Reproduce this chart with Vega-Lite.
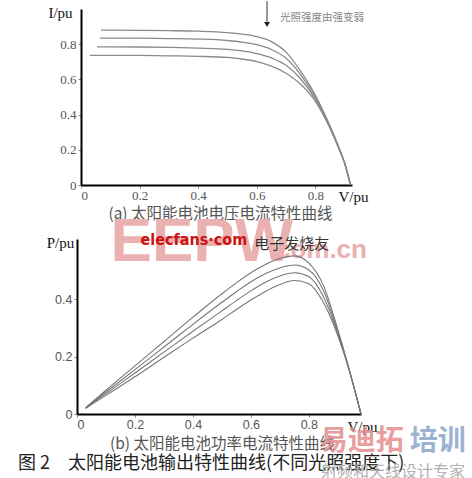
{
  "$schema": "https://vega.github.io/schema/vega-lite/v6.json",
  "background": "white",
  "padding": {"left": 18, "top": 0, "right": 2, "bottom": 2},
  "spacing": 54,
  "bounds": "flush",
  "config": {"view": {"stroke": null}, "axis": {"grid": false}},
  "datasets": {
    "iv": [
      {"curve": 1, "v": 0.068, "i": 0.88}, {"curve": 1, "v": 0.1, "i": 0.88}, {"curve": 1, "v": 0.2, "i": 0.879}, {"curve": 1, "v": 0.3, "i": 0.877}, {"curve": 1, "v": 0.4, "i": 0.874}, {"curve": 1, "v": 0.5, "i": 0.866}, {"curve": 1, "v": 0.55, "i": 0.857}, {"curve": 1, "v": 0.6, "i": 0.843}, {"curve": 1, "v": 0.65, "i": 0.815}, {"curve": 1, "v": 0.7, "i": 0.755}, {"curve": 1, "v": 0.75, "i": 0.645}, {"curve": 1, "v": 0.8, "i": 0.51}, {"curve": 1, "v": 0.85, "i": 0.335}, {"curve": 1, "v": 0.88, "i": 0.215}, {"curve": 1, "v": 0.9, "i": 0.125}, {"curve": 1, "v": 0.92, "i": 0.0},
      {"curve": 2, "v": 0.065, "i": 0.835}, {"curve": 2, "v": 0.1, "i": 0.835}, {"curve": 2, "v": 0.2, "i": 0.834}, {"curve": 2, "v": 0.3, "i": 0.832}, {"curve": 2, "v": 0.4, "i": 0.829}, {"curve": 2, "v": 0.5, "i": 0.821}, {"curve": 2, "v": 0.55, "i": 0.812}, {"curve": 2, "v": 0.6, "i": 0.797}, {"curve": 2, "v": 0.65, "i": 0.77}, {"curve": 2, "v": 0.7, "i": 0.72}, {"curve": 2, "v": 0.75, "i": 0.626}, {"curve": 2, "v": 0.8, "i": 0.5}, {"curve": 2, "v": 0.85, "i": 0.33}, {"curve": 2, "v": 0.88, "i": 0.212}, {"curve": 2, "v": 0.9, "i": 0.124}, {"curve": 2, "v": 0.92, "i": 0.0},
      {"curve": 3, "v": 0.055, "i": 0.785}, {"curve": 3, "v": 0.1, "i": 0.785}, {"curve": 3, "v": 0.2, "i": 0.784}, {"curve": 3, "v": 0.3, "i": 0.782}, {"curve": 3, "v": 0.4, "i": 0.778}, {"curve": 3, "v": 0.5, "i": 0.771}, {"curve": 3, "v": 0.55, "i": 0.762}, {"curve": 3, "v": 0.6, "i": 0.747}, {"curve": 3, "v": 0.65, "i": 0.722}, {"curve": 3, "v": 0.7, "i": 0.68}, {"curve": 3, "v": 0.75, "i": 0.602}, {"curve": 3, "v": 0.8, "i": 0.488}, {"curve": 3, "v": 0.85, "i": 0.326}, {"curve": 3, "v": 0.88, "i": 0.21}, {"curve": 3, "v": 0.9, "i": 0.123}, {"curve": 3, "v": 0.92, "i": 0.0},
      {"curve": 4, "v": 0.03, "i": 0.737}, {"curve": 4, "v": 0.1, "i": 0.737}, {"curve": 4, "v": 0.2, "i": 0.736}, {"curve": 4, "v": 0.3, "i": 0.734}, {"curve": 4, "v": 0.4, "i": 0.731}, {"curve": 4, "v": 0.5, "i": 0.725}, {"curve": 4, "v": 0.55, "i": 0.716}, {"curve": 4, "v": 0.6, "i": 0.701}, {"curve": 4, "v": 0.65, "i": 0.675}, {"curve": 4, "v": 0.7, "i": 0.635}, {"curve": 4, "v": 0.75, "i": 0.572}, {"curve": 4, "v": 0.8, "i": 0.475}, {"curve": 4, "v": 0.85, "i": 0.322}, {"curve": 4, "v": 0.88, "i": 0.208}, {"curve": 4, "v": 0.9, "i": 0.122}, {"curve": 4, "v": 0.92, "i": 0.0}
    ],
    "pv": [
      {"curve": 1, "v": 0.03, "p": 0.022}, {"curve": 1, "v": 0.1, "p": 0.083}, {"curve": 1, "v": 0.2, "p": 0.168}, {"curve": 1, "v": 0.3, "p": 0.253}, {"curve": 1, "v": 0.4, "p": 0.338}, {"curve": 1, "v": 0.5, "p": 0.42}, {"curve": 1, "v": 0.55, "p": 0.458}, {"curve": 1, "v": 0.6, "p": 0.493}, {"curve": 1, "v": 0.65, "p": 0.522}, {"curve": 1, "v": 0.7, "p": 0.543}, {"curve": 1, "v": 0.75, "p": 0.552}, {"curve": 1, "v": 0.8, "p": 0.527}, {"curve": 1, "v": 0.85, "p": 0.45}, {"curve": 1, "v": 0.9, "p": 0.295}, {"curve": 1, "v": 0.93, "p": 0.19}, {"curve": 1, "v": 0.95, "p": 0.115}, {"curve": 1, "v": 0.98, "p": 0.0},
      {"curve": 2, "v": 0.03, "p": 0.021}, {"curve": 2, "v": 0.1, "p": 0.077}, {"curve": 2, "v": 0.2, "p": 0.155}, {"curve": 2, "v": 0.3, "p": 0.234}, {"curve": 2, "v": 0.4, "p": 0.313}, {"curve": 2, "v": 0.5, "p": 0.39}, {"curve": 2, "v": 0.55, "p": 0.427}, {"curve": 2, "v": 0.6, "p": 0.462}, {"curve": 2, "v": 0.65, "p": 0.49}, {"curve": 2, "v": 0.7, "p": 0.51}, {"curve": 2, "v": 0.75, "p": 0.52}, {"curve": 2, "v": 0.8, "p": 0.503}, {"curve": 2, "v": 0.85, "p": 0.432}, {"curve": 2, "v": 0.9, "p": 0.287}, {"curve": 2, "v": 0.93, "p": 0.188}, {"curve": 2, "v": 0.95, "p": 0.115}, {"curve": 2, "v": 0.98, "p": 0.0},
      {"curve": 3, "v": 0.03, "p": 0.02}, {"curve": 3, "v": 0.1, "p": 0.071}, {"curve": 3, "v": 0.2, "p": 0.143}, {"curve": 3, "v": 0.3, "p": 0.216}, {"curve": 3, "v": 0.4, "p": 0.289}, {"curve": 3, "v": 0.5, "p": 0.36}, {"curve": 3, "v": 0.55, "p": 0.396}, {"curve": 3, "v": 0.6, "p": 0.43}, {"curve": 3, "v": 0.65, "p": 0.46}, {"curve": 3, "v": 0.7, "p": 0.482}, {"curve": 3, "v": 0.75, "p": 0.493}, {"curve": 3, "v": 0.8, "p": 0.48}, {"curve": 3, "v": 0.85, "p": 0.41}, {"curve": 3, "v": 0.9, "p": 0.28}, {"curve": 3, "v": 0.93, "p": 0.186}, {"curve": 3, "v": 0.95, "p": 0.115}, {"curve": 3, "v": 0.98, "p": 0.0},
      {"curve": 4, "v": 0.03, "p": 0.02}, {"curve": 4, "v": 0.1, "p": 0.065}, {"curve": 4, "v": 0.2, "p": 0.13}, {"curve": 4, "v": 0.3, "p": 0.198}, {"curve": 4, "v": 0.4, "p": 0.265}, {"curve": 4, "v": 0.5, "p": 0.33}, {"curve": 4, "v": 0.55, "p": 0.365}, {"curve": 4, "v": 0.6, "p": 0.398}, {"curve": 4, "v": 0.65, "p": 0.428}, {"curve": 4, "v": 0.7, "p": 0.452}, {"curve": 4, "v": 0.75, "p": 0.466}, {"curve": 4, "v": 0.8, "p": 0.455}, {"curve": 4, "v": 0.85, "p": 0.39}, {"curve": 4, "v": 0.9, "p": 0.273}, {"curve": 4, "v": 0.93, "p": 0.184}, {"curve": 4, "v": 0.95, "p": 0.115}, {"curve": 4, "v": 0.98, "p": 0.0}
    ]
  },
  "vconcat": [
    {
      "width": 275,
      "height": 176,
      "title": {"text": "(a)  太阳能电池电压电流特性曲线", "orient": "bottom", "anchor": "middle", "frame": "group", "dx": 6, "offset": 3, "font": "Noto Sans CJK SC", "fontSize": 15.5, "fontWeight": "normal", "color": "#555"},
      "layer": [
        {
          "data": {"name": "iv"},
          "mark": {"type": "line", "interpolate": "monotone", "color": "#8a8a8a", "strokeWidth": 1.3, "clip": false},
          "encoding": {
            "x": {"field": "v", "type": "quantitative",
              "scale": {"domain": [0, 0.925], "range": [4, 275], "nice": false, "zero": false},
              "axis": {"values": [0, 0.2, 0.4, 0.6, 0.8], "format": "~g", "title": "V/pu", "titleX": 276, "titleY": 11, "titleAlign": "center", "titleBaseline": "middle", "titleFont": "Liberation Serif", "titleFontSize": 15, "titleFontWeight": "normal", "titleColor": "#111", "labelFont": "Liberation Serif", "labelFontSize": 13, "labelColor": "#555", "domainColor": "#000", "domainWidth": 2, "tickColor": "#888", "tickSize": 3, "labelPadding": 1}},
            "y": {"field": "i", "type": "quantitative",
              "scale": {"domain": [0, 1.0], "nice": false},
              "axis": {"values": [0, 0.2, 0.4, 0.6, 0.8], "format": "~g", "offset": -4, "title": "I/pu", "titleAngle": 0, "titleX": -21, "titleY": 3, "titleAlign": "center", "titleBaseline": "middle", "titleFont": "Liberation Serif", "titleFontSize": 15, "titleFontWeight": "normal", "titleColor": "#111", "labelFont": "Liberation Serif", "labelFontSize": 13, "labelColor": "#555", "domainColor": "#000", "domainWidth": 2, "tickColor": "#888", "tickSize": 3, "labelPadding": 2}},
            "detail": {"field": "curve", "type": "nominal"}
          }
        },
        {
          "data": {"values": [{"v": 0.635, "i": 1.045, "i2": 0.92}]},
          "mark": {"type": "rule", "color": "#333", "strokeWidth": 1},
          "encoding": {"x": {"field": "v", "type": "quantitative"}, "y": {"field": "i", "type": "quantitative"}, "y2": {"field": "i2"}}
        },
        {
          "data": {"values": [{"v": 0.635, "i": 0.912}]},
          "mark": {"type": "point", "shape": "triangle-down", "filled": true, "color": "#222", "size": 35, "opacity": 1},
          "encoding": {"x": {"field": "v", "type": "quantitative"}, "y": {"field": "i", "type": "quantitative"}}
        },
        {
          "data": {"values": [{"v": 0.679, "i": 0.949, "label": "光照强度由强变弱"}]},
          "mark": {"type": "text", "align": "left", "baseline": "middle", "font": "Noto Sans CJK SC", "fontSize": 10.5, "color": "#888"},
          "encoding": {"x": {"field": "v", "type": "quantitative"}, "y": {"field": "i", "type": "quantitative"}, "text": {"field": "label"}}
        }
      ]
    },
    {
      "width": 284,
      "height": 175,
      "layer": [
        {
          "data": {"values": [{"v": 0.431, "p": 0.534, "label": "EEPW"}]},
          "mark": {"type": "text", "align": "center", "baseline": "alphabetic", "font": "Liberation Sans", "fontWeight": "bold", "fontSize": 62, "color": "#ebb0b0"},
          "encoding": {"x": {"field": "v", "type": "quantitative"}, "y": {"field": "p", "type": "quantitative"}, "text": {"field": "label"}}
        },
        {
          "data": {"values": [{"v": 0.831, "p": 0.572, "label": ".com.cn"}]},
          "mark": {"type": "text", "align": "center", "baseline": "middle", "font": "Liberation Sans", "fontWeight": "bold", "fontSize": 26, "color": "#ebb0b0"},
          "encoding": {"x": {"field": "v", "type": "quantitative"}, "y": {"field": "p", "type": "quantitative"}, "text": {"field": "label"}}
        },
        {
          "data": {"values": [{"v": 0.403, "p": 0.607, "label": "elecfans·com"}]},
          "mark": {"type": "text", "align": "center", "baseline": "middle", "font": "DejaVu Sans Condensed", "fontWeight": "bold", "fontSize": 16, "color": "#cc1111"},
          "encoding": {"x": {"field": "v", "type": "quantitative"}, "y": {"field": "p", "type": "quantitative"}, "text": {"field": "label"}}
        },
        {
          "data": {"values": [{"v": 0.741, "p": 0.593, "label": "电子发烧友"}]},
          "mark": {"type": "text", "align": "center", "baseline": "middle", "font": "Noto Sans CJK SC", "fontSize": 15, "color": "#333"},
          "encoding": {"x": {"field": "v", "type": "quantitative"}, "y": {"field": "p", "type": "quantitative"}, "text": {"field": "label"}}
        },
        {
          "data": {"values": [{"v": 0.502, "p": -0.1047, "label": "(b)  太阳能电池功率电流特性曲线"}]},
          "mark": {"type": "text", "align": "center", "baseline": "middle", "font": "Noto Sans CJK SC", "fontSize": 15.5, "color": "#555"},
          "encoding": {"x": {"field": "v", "type": "quantitative"}, "y": {"field": "p", "type": "quantitative"}, "text": {"field": "label"}}
        },
        {
          "data": {"values": [{"v": 0.983, "p": -0.098, "label": "易迪拓"}]},
          "mark": {"type": "text", "align": "center", "baseline": "middle", "font": "Noto Sans CJK SC", "fontWeight": "bold", "fontSize": 28, "color": "#e58e8e", "opacity": 0.85},
          "encoding": {"x": {"field": "v", "type": "quantitative"}, "y": {"field": "p", "type": "quantitative"}, "text": {"field": "label"}}
        },
        {
          "data": {"values": [{"v": 1.245, "p": -0.098, "label": "培训"}]},
          "mark": {"type": "text", "align": "center", "baseline": "middle", "font": "Noto Sans CJK SC", "fontWeight": "bold", "fontSize": 28, "color": "#8aa6cc", "opacity": 0.85},
          "encoding": {"x": {"field": "v", "type": "quantitative"}, "y": {"field": "p", "type": "quantitative"}, "text": {"field": "label"}}
        },
        {
          "data": {"values": [{"v": -0.2034, "p": -0.1745, "label": "图 2　太阳能电池输出特性曲线(不同光照强度下)"}]},
          "mark": {"type": "text", "align": "left", "baseline": "middle", "font": "Noto Sans CJK SC", "fontSize": 18, "color": "#222"},
          "encoding": {"x": {"field": "v", "type": "quantitative"}, "y": {"field": "p", "type": "quantitative"}, "text": {"field": "label"}}
        },
        {
          "data": {"values": [{"v": 1.09, "p": -0.202, "label": "射频和天线设计专家"}]},
          "mark": {"type": "text", "align": "center", "baseline": "middle", "font": "Noto Sans CJK SC", "fontSize": 16, "color": "#aaa", "opacity": 0.9},
          "encoding": {"x": {"field": "v", "type": "quantitative"}, "y": {"field": "p", "type": "quantitative"}, "text": {"field": "label"}}
        },
        {
          "data": {"name": "pv"},
          "mark": {"type": "line", "interpolate": "monotone", "color": "#777", "strokeWidth": 1.1, "clip": false},
          "encoding": {
            "x": {"field": "v", "type": "quantitative",
              "scale": {"domain": [0, 0.98], "nice": false, "zero": false},
              "axis": {"values": [0, 0.2, 0.4, 0.6, 0.8], "format": "~g", "title": "V/pu", "titleX": 285, "titleY": 12, "titleAlign": "center", "titleBaseline": "middle", "titleFont": "Liberation Serif", "titleFontSize": 15, "titleFontWeight": "normal", "titleColor": "#111", "labelFont": "Liberation Sans", "labelFontSize": 12.5, "labelColor": "#555", "domainColor": "#000", "domainWidth": 2, "tickColor": "#888", "tickSize": 3, "labelPadding": 1}},
            "y": {"field": "p", "type": "quantitative",
              "scale": {"domain": [0, 0.611], "nice": false},
              "axis": {"values": [0, 0.2, 0.4], "format": "~g", "title": "P/pu", "titleAngle": 0, "titleX": -17, "titleY": 3, "titleAlign": "center", "titleBaseline": "middle", "titleFont": "Liberation Serif", "titleFontSize": 15, "titleFontWeight": "normal", "titleColor": "#111", "labelFont": "Liberation Sans", "labelFontSize": 12.5, "labelColor": "#555", "domainColor": "#000", "domainWidth": 2, "tickColor": "#888", "tickSize": 3, "labelPadding": 2}},
            "detail": {"field": "curve", "type": "nominal"}
          }
        }
      ]
    }
  ]
}
